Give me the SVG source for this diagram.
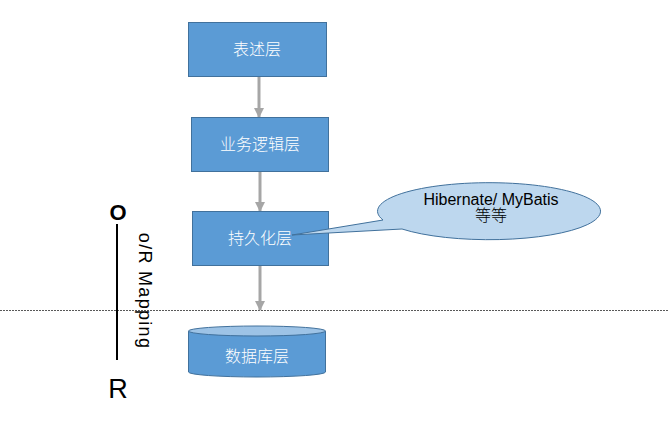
<svg xmlns="http://www.w3.org/2000/svg" width="668" height="432" viewBox="0 0 668 432">
<defs>
<style>
.box{fill:#5b9bd5;stroke:#41719c;stroke-width:1}
.lbl{font-family:"Liberation Sans","Noto Sans CJK SC",sans-serif;font-size:16px;font-weight:300;fill:#ffffff;text-anchor:middle}
.conn{stroke:#a6a6a6;stroke-width:3;fill:none;marker-end:url(#ah)}
.dark{font-family:"Liberation Sans","Noto Sans CJK SC",sans-serif;fill:#000000}
</style>
<marker id="ah" viewBox="0 0 10 10" refX="9" refY="5" markerWidth="3.5" markerHeight="3.5" orient="auto">
<path d="M0,0 L10,5 L0,10 z" fill="#a6a6a6"/>
</marker>
</defs>
<rect width="668" height="432" fill="#ffffff"/>
<line x1="0" y1="310.5" x2="668" y2="310.5" stroke="#595959" stroke-width="1" stroke-dasharray="2,1"/>
<g id="connectors">
<line class="conn" x1="259" y1="76" x2="259" y2="117"/>
<line class="conn" x1="260" y1="172" x2="260" y2="211"/>
<line class="conn" x1="260" y1="265" x2="260" y2="310"/>
</g>
<g id="n1">
<rect class="box" x="188.5" y="22.5" width="138" height="54"/>
<text class="lbl" x="257" y="55">表述层</text>
</g>
<g id="n2">
<rect class="box" x="191.5" y="117.5" width="137" height="54"/>
<text class="lbl" x="260" y="150">业务逻辑层</text>
</g>
<g id="n3">
<rect class="box" x="192.5" y="211.5" width="136" height="54"/>
<text class="lbl" x="260" y="244">持久化层</text>
</g>
<g id="n4">
<path d="M188.5,331 L188.5,372 A68.5,5 0 0 0 325.5,372 L325.5,331" fill="#5b9bd5" stroke="#41719c" stroke-width="1"/>
<ellipse cx="257" cy="331" rx="68.5" ry="5" fill="#9dc3e6" stroke="#41719c" stroke-width="1"/>
<text class="lbl" x="257" y="362">数据库层</text>
</g>
<g id="callout">
<path d="M383,220 A111.5,28.5 0 1 1 402,229 L292,235 Z" fill="#bdd7ee" stroke="#41719c" stroke-width="1"/>
<text class="dark" x="491" y="205" font-size="16" text-anchor="middle">Hibernate/ MyBatis</text>
<text class="dark" x="491" y="221" font-size="16" font-weight="300" text-anchor="middle">等等</text>
</g>
<g id="or">
<text class="dark" x="118" y="220" font-size="22" font-weight="bold" text-anchor="middle">O</text>
<line x1="117" y1="224" x2="117" y2="360" stroke="#000000" stroke-width="2"/>
<text class="dark" x="118" y="398" font-size="27" text-anchor="middle">R</text>
<text class="dark" font-size="18" letter-spacing="1.3" text-anchor="middle" transform="translate(139,291) rotate(90)">o/R Mapping</text>
</g>
</svg>
